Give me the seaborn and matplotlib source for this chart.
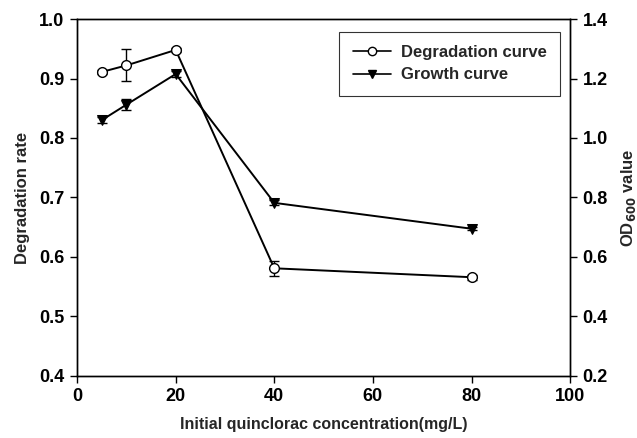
import matplotlib
matplotlib.use("Agg")
import matplotlib.pyplot as plt
import seaborn as sns
import pandas as pd
from matplotlib.lines import Line2D

concentration = [5, 10, 20, 40, 80]
degradation = [0.911, 0.922, 0.948, 0.581, 0.566]
degradation_err = [0.004, 0.027, 0.004, 0.013, 0.004]
growth = [1.060, 1.112, 1.215, 0.782, 0.695]
growth_err = [0.010, 0.018, 0.010, 0.008, 0.005]

x_ticks = [0, 20, 40, 60, 80, 100]
left_ticks = [0.4, 0.5, 0.6, 0.7, 0.8, 0.9, 1.0]
right_ticks = [0.2, 0.4, 0.6, 0.8, 1.0, 1.2, 1.4]

sns.set_style("ticks")
plt.rcParams['font.family'] = ['Liberation Sans', 'DejaVu Sans']

df = pd.DataFrame({"conc": concentration, "deg": degradation, "deg_err": degradation_err,
                   "growth": growth, "growth_err": growth_err})

fig = plt.figure(figsize=(6.37, 4.38), dpi=100)
ax = fig.add_axes([0.121, 0.1416, 0.774, 0.815])
ax2 = ax.twinx()

ax.errorbar(df["conc"], df["deg"], yerr=df["deg_err"], fmt='none', ecolor='black',
            elinewidth=1, capsize=3.5, capthick=1, zorder=2)
sns.lineplot(data=df, x="conc", y="deg", ax=ax, color='black', lw=1.4, marker='o',
             markersize=7, markerfacecolor='white', markeredgecolor='black',
             markeredgewidth=1, zorder=3)

ax2.errorbar(df["conc"], df["growth"], yerr=df["growth_err"], fmt='none', ecolor='black',
             elinewidth=1, capsize=3.5, capthick=1, zorder=2)
sns.lineplot(data=df, x="conc", y="growth", ax=ax2, color='black', lw=1.4, marker='v',
             markersize=7, markerfacecolor='black', markeredgecolor='black', zorder=3)

ax.set_xlim(0, 100)
ax.set_ylim(0.4, 1.0)
ax2.set_ylim(0.2, 1.4)
ax.set_xticks(x_ticks)
ax.set_yticks(left_ticks)
ax2.set_yticks(right_ticks)
ax.set_xticklabels([str(t) for t in x_ticks])
ax.set_yticklabels([f"{t:.1f}" for t in left_ticks])
ax2.set_yticklabels([f"{t:.1f}" for t in right_ticks])

for a in (ax, ax2):
    for s in a.spines.values():
        s.set_linewidth(1.0)
        s.set_color('black')
    a.tick_params(direction='out', length=5, width=1, labelsize=13, colors='black', pad=4)
    for lbl in a.get_xticklabels() + a.get_yticklabels():
        lbl.set_fontweight('bold')

ax.set_xlabel("Initial quinclorac concentration(mg/L)", fontsize=11.5, fontweight='bold', labelpad=8)
ax.set_ylabel("Degradation rate", fontsize=12, fontweight='bold', labelpad=7)
ax2.set_ylabel(r"OD$_{\mathbf{600}}$ value", fontsize=12, fontweight='bold', labelpad=8)

handles = [
    Line2D([], [], color='black', lw=1.2, marker='o', markersize=6,
           markerfacecolor='white', markeredgecolor='black'),
    Line2D([], [], color='black', lw=1.2, marker='v', markersize=6,
           markerfacecolor='black', markeredgecolor='black'),
]
leg = ax.legend(handles, ["Degradation curve", "Growth curve"], loc='upper right',
                bbox_to_anchor=(0.98, 0.965), borderaxespad=0, frameon=True, fancybox=False,
                edgecolor='black', handlelength=2.3, handletextpad=0.6, borderpad=0.8,
                labelspacing=0.45, prop={'weight': 'bold', 'size': 12})
leg.get_frame().set_linewidth(0.8)
if ax2.get_legend():
    ax2.get_legend().remove()
ax.set_zorder(ax2.get_zorder() + 1)
ax.patch.set_visible(False)

fig.savefig("out.png", dpi=100)
